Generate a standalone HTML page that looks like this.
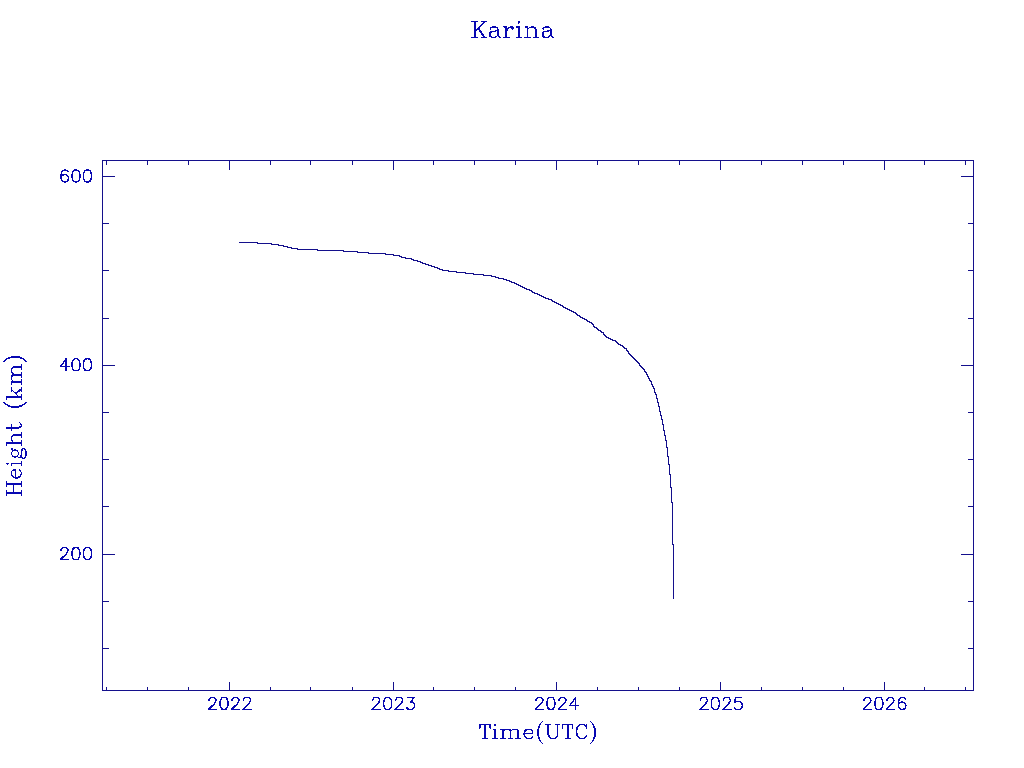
<!DOCTYPE html>
<html><head><meta charset="utf-8"><title>Karina</title>
<style>
html,body{margin:0;padding:0;background:#fff;width:1024px;height:768px;overflow:hidden;font-family:"Liberation Sans",sans-serif}
svg{display:block}
</style></head><body>
<svg width="1024" height="768" viewBox="0 0 1024 768">
<rect width="1024" height="768" fill="#fff"/>
<path shape-rendering="crispEdges" fill="#14108c" d="M102,160h872v1h-872zM102,690h872v1h-872zM102,160h1v531h-1zM973,160h1v531h-1zM106,687h1v3h-1zM106,161h1v4h-1zM147,687h1v3h-1zM147,161h1v4h-1zM188,687h1v3h-1zM188,161h1v4h-1zM229,682h1v8h-1zM229,161h1v9h-1zM270,687h1v3h-1zM270,161h1v4h-1zM310,687h1v3h-1zM310,161h1v4h-1zM352,687h1v3h-1zM352,161h1v4h-1zM393,682h1v8h-1zM393,161h1v9h-1zM433,687h1v3h-1zM433,161h1v4h-1zM474,687h1v3h-1zM474,161h1v4h-1zM515,687h1v3h-1zM515,161h1v4h-1zM556,682h1v8h-1zM556,161h1v9h-1zM597,687h1v3h-1zM597,161h1v4h-1zM638,687h1v3h-1zM638,161h1v4h-1zM679,687h1v3h-1zM679,161h1v4h-1zM720,682h1v8h-1zM720,161h1v9h-1zM761,687h1v3h-1zM761,161h1v4h-1zM802,687h1v3h-1zM802,161h1v4h-1zM843,687h1v3h-1zM843,161h1v4h-1zM884,682h1v8h-1zM884,161h1v9h-1zM924,687h1v3h-1zM924,161h1v4h-1zM965,687h1v3h-1zM965,161h1v4h-1zM103,176h12v1h-12zM961,176h12v1h-12zM103,223h6v1h-6zM968,223h5v1h-5zM103,270h6v1h-6zM968,270h5v1h-5zM103,318h6v1h-6zM968,318h5v1h-5zM103,365h12v1h-12zM961,365h12v1h-12zM103,412h6v1h-6zM968,412h5v1h-5zM103,459h6v1h-6zM968,459h5v1h-5zM103,506h6v1h-6zM968,506h5v1h-5zM103,554h12v1h-12zM961,554h12v1h-12zM103,601h6v1h-6zM968,601h5v1h-5zM103,648h6v1h-6zM968,648h5v1h-5z"/>
<path shape-rendering="crispEdges" fill="#14108c" d="M239,242h19v1h-19zM257,243h15v1h-15zM271,244h8v1h-8zM278,245h6v1h-6zM283,246h5v1h-5zM287,247h5v1h-5zM291,248h7v1h-7zM297,249h21v1h-21zM317,250h27v1h-27zM343,251h15v1h-15zM357,252h12v1h-12zM368,253h18v1h-18zM385,254h9v1h-9zM393,255h7v1h-7zM399,256h3v1h-3zM401,257h5v1h-5zM405,258h7v1h-7zM411,259h3v1h-3zM413,260h5v1h-5zM417,261h4v1h-4zM420,262h3v1h-3zM422,263h4v1h-4zM425,264h4v1h-4zM428,265h4v1h-4zM431,266h4v1h-4zM434,267h4v1h-4zM437,268h3v1h-3zM439,269h4v1h-4zM442,270h7v1h-7zM448,271h9v1h-9zM456,272h10v1h-10zM465,273h9v1h-9zM473,274h11v1h-11zM483,275h9v1h-9zM491,276h5v1h-5zM495,277h4v1h-4zM498,278h6v1h-6zM503,279h4v1h-4zM506,280h4v1h-4zM509,281h3v1h-3zM511,282h4v1h-4zM514,283h3v1h-3zM516,284h3v1h-3zM518,285h3v1h-3zM520,286h3v1h-3zM522,287h3v1h-3zM524,288h3v1h-3zM526,289h4v1h-4zM529,290h3v1h-3zM531,291h2v1h-2zM532,292h3v1h-3zM534,293h4v1h-4zM537,294h3v1h-3zM539,295h3v1h-3zM541,296h3v1h-3zM543,297h3v1h-3zM545,298h4v1h-4zM548,299h4v1h-4zM551,300h2v1h-2zM552,301h3v1h-3zM554,302h3v1h-3zM556,303h3v1h-3zM558,304h3v1h-3zM560,305h3v1h-3zM562,306h2v1h-2zM563,307h3v1h-3zM565,308h3v1h-3zM567,309h3v1h-3zM569,310h3v1h-3zM571,311h3v1h-3zM573,312h3v1h-3zM575,313h2v1h-2zM576,314h2v1h-2zM577,315h3v1h-3zM579,316h2v1h-2zM580,317h3v1h-3zM582,318h3v1h-3zM584,319h3v1h-3zM586,320h2v1h-2zM587,321h3v1h-3zM589,322h3v1h-3zM591,323h2v1h-2zM592,324h2v1h-2zM593,325h1v1h-1zM593,326h2v1h-2zM594,327h3v1h-3zM596,328h2v1h-2zM597,329h2v1h-2zM598,330h3v1h-3zM600,331h2v1h-2zM601,332h3v1h-3zM603,333h1v1h-1zM603,334h2v1h-2zM604,335h2v1h-2zM605,336h2v1h-2zM606,337h3v1h-3zM608,338h3v1h-3zM610,339h3v1h-3zM612,340h4v1h-4zM615,341h2v1h-2zM616,342h2v1h-2zM617,343h2v1h-2zM618,344h3v1h-3zM620,345h3v1h-3zM622,346h2v1h-2zM623,347h2v1h-2zM624,348h3v1h-3zM626,349h1v1h-1zM626,350h2v1h-2zM627,351h2v1h-2zM628,352h1v1h-1zM628,353h2v1h-2zM629,354h2v1h-2zM630,355h2v1h-2zM631,356h2v1h-2zM632,357h2v1h-2zM633,358h2v1h-2zM634,359h2v1h-2zM635,360h2v1h-2zM636,361h2v1h-2zM637,362h2v1h-2zM638,363h2v1h-2zM639,364h1v1h-1zM639,365h2v1h-2zM640,366h2v1h-2zM641,367h2v1h-2zM642,368h2v1h-2zM643,369h2v1h-2zM644,370h1v1h-1zM644,371h2v1h-2zM645,372h2v1h-2zM646,373h1v1h-1zM646,374h2v1h-2zM647,375h1v1h-1zM647,376h2v1h-2zM648,377h1v1h-1zM648,378h2v1h-2zM649,379h1v1h-1zM649,380h2v1h-2zM650,381h1v1h-1zM651,381h1v4h-1zM652,384h1v3h-1zM653,386h1v3h-1zM654,388h1v5h-1zM655,392h1v3h-1zM656,394h1v5h-1zM657,398h1v5h-1zM658,402h1v5h-1zM659,406h1v6h-1zM660,411h1v5h-1zM661,415h1v5h-1zM662,419h1v6h-1zM663,424h1v7h-1zM664,430h1v6h-1zM665,435h1v6h-1zM666,440h1v8h-1zM667,447h1v10h-1zM668,456h1v9h-1zM669,464h1v11h-1zM670,474h1v14h-1zM671,487h1v16h-1zM672,502h1v43h-1zM673,544h1v55h-1z"/>
<g fill="#0808b2" fill-rule="evenodd" shape-rendering="crispEdges">
<path transform="translate(206.78,709.50)" d="M38.69,-12.69 38.56,-12.56 37.69,-12.19 36.69,-11.19 36.69,-11.06 36.19,-10.19 36.06,-9.75 36.12,-9.62 36.12,-9.31 36.06,-9.25 36.12,-8.94 36.38,-8.62 36.62,-8.50 37.12,-8.56 37.50,-9.00 37.50,-9.62 37.94,-10.50 38.38,-10.94 39.25,-11.38 41.25,-11.38 42.12,-10.94 42.56,-10.50 43.00,-9.62 43.00,-8.75 42.44,-7.69 41.38,-6.12 35.69,-0.50 35.50,0.00 35.56,0.25 36.00,0.69 44.50,0.69 44.88,0.38 45.00,0.00 44.88,-0.38 44.50,-0.69 38.06,-0.69 38.00,-0.75 42.50,-5.25 43.75,-7.12 44.44,-8.62 44.38,-8.75 44.38,-9.62 44.44,-9.75 44.31,-10.19 44.19,-10.31 43.69,-11.38 42.81,-12.19 41.38,-12.81 41.25,-12.75 39.25,-12.75 39.12,-12.81ZM27.19,-12.69 27.06,-12.56 26.19,-12.19 25.19,-11.19 25.19,-11.06 24.69,-10.19 24.56,-9.75 24.62,-9.62 24.62,-9.31 24.56,-9.25 24.62,-8.94 24.88,-8.62 25.12,-8.50 25.62,-8.56 26.00,-9.00 26.00,-9.62 26.44,-10.50 26.88,-10.94 27.75,-11.38 29.75,-11.38 30.62,-10.94 31.06,-10.50 31.50,-9.62 31.50,-8.75 30.94,-7.69 29.88,-6.12 24.19,-0.50 24.00,0.00 24.06,0.25 24.50,0.69 33.00,0.69 33.38,0.38 33.50,0.00 33.38,-0.38 33.00,-0.69 26.56,-0.69 26.50,-0.75 31.00,-5.25 32.25,-7.12 32.94,-8.62 32.88,-8.75 32.88,-9.62 32.94,-9.75 32.81,-10.19 32.69,-10.31 32.19,-11.38 31.31,-12.19 29.88,-12.81 29.75,-12.75 27.75,-12.75 27.62,-12.81ZM16.62,-12.81 14.75,-12.19 14.38,-11.94 13.19,-10.19 12.50,-6.94 12.50,-5.12 13.12,-2.06 14.25,-0.31 14.75,0.12 16.44,0.69 18.06,0.69 19.88,0.06 20.25,-0.31 21.25,-1.81 21.44,-2.25 21.44,-2.56 22.00,-5.12 22.00,-6.94 21.31,-10.19 20.12,-11.94 19.75,-12.19 18.31,-12.62 18.12,-12.75 17.81,-12.81 17.69,-12.75 16.88,-12.75ZM16.75,-11.38 17.75,-11.38 19.06,-10.94 20.06,-9.44 20.56,-7.00 20.56,-5.06 20.06,-2.62 19.25,-1.38 19.00,-1.12 17.69,-0.69 16.56,-0.75 15.62,-1.06 15.25,-1.38 14.44,-2.62 13.94,-5.06 13.94,-7.00 14.44,-9.44 15.44,-10.94ZM4.19,-12.69 4.06,-12.56 3.19,-12.19 2.19,-11.19 2.19,-11.06 1.69,-10.19 1.56,-9.75 1.62,-9.62 1.62,-9.31 1.56,-9.25 1.62,-8.94 1.88,-8.62 2.12,-8.50 2.62,-8.56 3.00,-9.00 3.00,-9.62 3.44,-10.50 3.88,-10.94 4.75,-11.38 6.75,-11.38 7.62,-10.94 8.06,-10.50 8.50,-9.62 8.50,-8.75 7.94,-7.69 6.88,-6.12 1.19,-0.50 1.00,0.00 1.06,0.25 1.50,0.69 10.00,0.69 10.38,0.38 10.50,0.00 10.38,-0.38 10.00,-0.69 3.56,-0.69 3.50,-0.75 8.00,-5.25 9.25,-7.12 9.94,-8.62 9.88,-8.75 9.88,-9.62 9.94,-9.75 9.81,-10.19 9.69,-10.31 9.19,-11.38 8.31,-12.19 6.88,-12.81 6.75,-12.75 4.75,-12.75 4.62,-12.81Z"/>
<path transform="translate(370.38,709.50)" d="M37.12,-12.75 36.75,-12.44 36.69,-11.88 36.81,-11.62 37.19,-11.38 42.19,-11.38 42.25,-11.31 39.69,-7.94 39.56,-7.69 39.56,-7.25 40.00,-6.81 40.25,-6.75 41.88,-6.75 42.62,-6.38 43.12,-5.88 43.56,-4.56 43.56,-3.50 43.06,-2.06 42.19,-1.19 40.69,-0.69 39.25,-0.69 37.75,-1.19 37.38,-1.56 36.88,-2.62 36.38,-3.00 36.06,-3.00 35.62,-2.69 35.50,-2.31 35.56,-2.00 36.25,-0.69 36.88,-0.06 37.19,0.12 38.88,0.69 41.06,0.69 42.75,0.12 43.06,-0.06 44.19,-1.19 44.44,-1.62 44.44,-1.81 45.00,-3.44 45.00,-4.62 44.31,-6.69 43.44,-7.56 43.19,-7.62 42.31,-8.12 41.69,-8.25 44.31,-11.69 44.38,-12.31 44.06,-12.69 43.69,-12.81 43.56,-12.75 37.50,-12.75 37.44,-12.81ZM27.19,-12.69 27.06,-12.56 26.19,-12.19 25.19,-11.19 25.19,-11.06 24.69,-10.19 24.56,-9.75 24.62,-9.62 24.62,-9.31 24.56,-9.25 24.62,-8.94 24.88,-8.62 25.12,-8.50 25.62,-8.56 26.00,-9.00 26.00,-9.62 26.44,-10.50 26.88,-10.94 27.75,-11.38 29.75,-11.38 30.62,-10.94 31.06,-10.50 31.50,-9.62 31.50,-8.75 30.94,-7.69 29.88,-6.12 24.19,-0.50 24.00,0.00 24.06,0.25 24.50,0.69 33.00,0.69 33.38,0.38 33.50,0.00 33.38,-0.38 33.00,-0.69 26.56,-0.69 26.50,-0.75 31.00,-5.25 32.25,-7.12 32.94,-8.62 32.88,-8.75 32.88,-9.62 32.94,-9.75 32.81,-10.19 32.69,-10.31 32.19,-11.38 31.31,-12.19 29.88,-12.81 29.75,-12.75 27.75,-12.75 27.62,-12.81ZM16.62,-12.81 14.75,-12.19 14.38,-11.94 13.19,-10.19 12.50,-6.94 12.50,-5.12 13.12,-2.06 14.25,-0.31 14.75,0.12 16.44,0.69 18.06,0.69 19.88,0.06 20.25,-0.31 21.25,-1.81 21.44,-2.25 21.44,-2.56 22.00,-5.12 22.00,-6.94 21.31,-10.19 20.12,-11.94 19.75,-12.19 18.31,-12.62 18.12,-12.75 17.81,-12.81 17.69,-12.75 16.88,-12.75ZM16.75,-11.38 17.75,-11.38 19.06,-10.94 20.06,-9.44 20.56,-7.00 20.56,-5.06 20.06,-2.62 19.25,-1.38 19.00,-1.12 17.69,-0.69 16.56,-0.75 15.62,-1.06 15.25,-1.38 14.44,-2.62 13.94,-5.06 13.94,-7.00 14.44,-9.44 15.44,-10.94ZM4.19,-12.69 4.06,-12.56 3.19,-12.19 2.19,-11.19 2.19,-11.06 1.69,-10.19 1.56,-9.75 1.62,-9.62 1.62,-9.31 1.56,-9.25 1.62,-8.94 1.88,-8.62 2.12,-8.50 2.62,-8.56 3.00,-9.00 3.00,-9.62 3.44,-10.50 3.88,-10.94 4.75,-11.38 6.75,-11.38 7.62,-10.94 8.06,-10.50 8.50,-9.62 8.50,-8.75 7.94,-7.69 6.88,-6.12 1.19,-0.50 1.00,0.00 1.06,0.25 1.50,0.69 10.00,0.69 10.38,0.38 10.50,0.00 10.38,-0.38 10.00,-0.69 3.56,-0.69 3.50,-0.75 8.00,-5.25 9.25,-7.12 9.94,-8.62 9.88,-8.75 9.88,-9.62 9.94,-9.75 9.81,-10.19 9.69,-10.31 9.19,-11.38 8.31,-12.19 6.88,-12.81 6.75,-12.75 4.75,-12.75 4.62,-12.81Z"/>
<path transform="translate(533.70,709.50)" d="M41.94,-12.81 41.38,-12.50 41.00,-11.88 35.62,-4.44 35.50,-4.00 35.62,-3.62 36.12,-3.31 41.19,-3.31 41.25,-3.25 41.25,0.00 41.38,0.38 41.62,0.62 42.19,0.69 42.56,0.38 42.69,0.12 42.69,-3.25 42.75,-3.31 44.94,-3.31 45.25,-3.44 45.44,-3.62 45.56,-4.12 45.31,-4.56 44.88,-4.75 42.75,-4.75 42.69,-4.81 42.69,-12.25 42.44,-12.62 42.25,-12.75ZM41.19,-9.75 41.25,-9.69 41.25,-4.81 41.19,-4.75 37.69,-4.75 37.62,-4.81ZM27.19,-12.69 27.06,-12.56 26.19,-12.19 25.19,-11.19 25.19,-11.06 24.69,-10.19 24.56,-9.75 24.62,-9.62 24.62,-9.31 24.56,-9.25 24.62,-8.94 24.88,-8.62 25.12,-8.50 25.62,-8.56 26.00,-9.00 26.00,-9.62 26.44,-10.50 26.88,-10.94 27.75,-11.38 29.75,-11.38 30.62,-10.94 31.06,-10.50 31.50,-9.62 31.50,-8.75 30.94,-7.69 29.88,-6.12 24.19,-0.50 24.00,0.00 24.06,0.25 24.50,0.69 33.00,0.69 33.38,0.38 33.50,0.00 33.38,-0.38 33.00,-0.69 26.56,-0.69 26.50,-0.75 31.00,-5.25 32.25,-7.12 32.94,-8.62 32.88,-8.75 32.88,-9.62 32.94,-9.75 32.81,-10.19 32.69,-10.31 32.19,-11.38 31.31,-12.19 29.88,-12.81 29.75,-12.75 27.75,-12.75 27.62,-12.81ZM16.62,-12.81 14.75,-12.19 14.38,-11.94 13.19,-10.19 12.50,-6.94 12.50,-5.12 13.12,-2.06 14.25,-0.31 14.75,0.12 16.44,0.69 18.06,0.69 19.88,0.06 20.25,-0.31 21.25,-1.81 21.44,-2.25 21.44,-2.56 22.00,-5.12 22.00,-6.94 21.31,-10.19 20.12,-11.94 19.75,-12.19 18.31,-12.62 18.12,-12.75 17.81,-12.81 17.69,-12.75 16.88,-12.75ZM16.75,-11.38 17.75,-11.38 19.06,-10.94 20.06,-9.44 20.56,-7.00 20.56,-5.06 20.06,-2.62 19.25,-1.38 19.00,-1.12 17.69,-0.69 16.56,-0.75 15.62,-1.06 15.25,-1.38 14.44,-2.62 13.94,-5.06 13.94,-7.00 14.44,-9.44 15.44,-10.94ZM4.19,-12.69 4.06,-12.56 3.19,-12.19 2.19,-11.19 2.19,-11.06 1.69,-10.19 1.56,-9.75 1.62,-9.62 1.62,-9.31 1.56,-9.25 1.62,-8.94 1.88,-8.62 2.12,-8.50 2.62,-8.56 3.00,-9.00 3.00,-9.62 3.44,-10.50 3.88,-10.94 4.75,-11.38 6.75,-11.38 7.62,-10.94 8.06,-10.50 8.50,-9.62 8.50,-8.75 7.94,-7.69 6.88,-6.12 1.19,-0.50 1.00,0.00 1.06,0.25 1.50,0.69 10.00,0.69 10.38,0.38 10.50,0.00 10.38,-0.38 10.00,-0.69 3.56,-0.69 3.50,-0.75 8.00,-5.25 9.25,-7.12 9.94,-8.62 9.88,-8.75 9.88,-9.62 9.94,-9.75 9.81,-10.19 9.69,-10.31 9.19,-11.38 8.31,-12.19 6.88,-12.81 6.75,-12.75 4.75,-12.75 4.62,-12.81Z"/>
<path transform="translate(698.03,709.50)" d="M37.12,-12.75 36.75,-12.44 36.62,-11.94 36.62,-11.38 36.56,-11.31 36.56,-10.81 36.50,-10.75 36.50,-10.25 36.44,-10.19 36.44,-9.69 36.38,-9.62 36.38,-9.12 36.31,-9.06 36.31,-8.56 36.25,-8.50 36.25,-8.00 36.12,-7.38 36.12,-6.69 36.25,-6.44 36.50,-6.25 36.88,-6.19 37.19,-6.31 37.75,-6.88 39.31,-7.38 40.62,-7.38 42.00,-6.94 42.25,-6.81 43.12,-5.88 43.56,-4.56 43.56,-3.50 43.06,-2.06 42.19,-1.19 40.69,-0.69 39.25,-0.69 37.75,-1.19 37.38,-1.56 36.88,-2.62 36.38,-3.00 36.06,-3.00 35.62,-2.69 35.50,-2.31 35.56,-2.00 36.25,-0.69 36.88,-0.06 37.19,0.12 38.88,0.69 41.06,0.69 42.75,0.12 43.06,-0.06 44.19,-1.19 44.44,-1.62 44.44,-1.81 44.81,-2.94 44.94,-3.12 45.00,-4.62 44.31,-6.69 42.94,-8.06 41.25,-8.62 41.06,-8.75 38.88,-8.75 37.75,-8.31 37.69,-8.38 37.69,-8.81 37.75,-8.88 37.94,-11.06 38.06,-11.38 43.31,-11.38 43.69,-11.62 43.81,-11.88 43.75,-12.44 43.38,-12.75 43.12,-12.81 43.00,-12.75 37.50,-12.75 37.44,-12.81ZM27.19,-12.69 27.06,-12.56 26.19,-12.19 25.19,-11.19 25.19,-11.06 24.69,-10.19 24.56,-9.75 24.62,-9.62 24.62,-9.31 24.56,-9.25 24.62,-8.94 24.88,-8.62 25.12,-8.50 25.62,-8.56 26.00,-9.00 26.00,-9.62 26.44,-10.50 26.88,-10.94 27.75,-11.38 29.75,-11.38 30.62,-10.94 31.06,-10.50 31.50,-9.62 31.50,-8.75 30.94,-7.69 29.88,-6.12 24.19,-0.50 24.00,0.00 24.06,0.25 24.50,0.69 33.00,0.69 33.38,0.38 33.50,0.00 33.38,-0.38 33.00,-0.69 26.56,-0.69 26.50,-0.75 31.00,-5.25 32.25,-7.12 32.94,-8.62 32.88,-8.75 32.88,-9.62 32.94,-9.75 32.81,-10.19 32.69,-10.31 32.19,-11.38 31.31,-12.19 29.88,-12.81 29.75,-12.75 27.75,-12.75 27.62,-12.81ZM16.62,-12.81 14.75,-12.19 14.38,-11.94 13.19,-10.19 12.50,-6.94 12.50,-5.12 13.12,-2.06 14.25,-0.31 14.75,0.12 16.44,0.69 18.06,0.69 19.88,0.06 20.25,-0.31 21.25,-1.81 21.44,-2.25 21.44,-2.56 22.00,-5.12 22.00,-6.94 21.31,-10.19 20.12,-11.94 19.75,-12.19 18.31,-12.62 18.12,-12.75 17.81,-12.81 17.69,-12.75 16.88,-12.75ZM16.75,-11.38 17.75,-11.38 19.06,-10.94 20.06,-9.44 20.56,-7.00 20.56,-5.06 20.06,-2.62 19.25,-1.38 19.00,-1.12 17.69,-0.69 16.56,-0.75 15.62,-1.06 15.25,-1.38 14.44,-2.62 13.94,-5.06 13.94,-7.00 14.44,-9.44 15.44,-10.94ZM4.19,-12.69 4.06,-12.56 3.19,-12.19 2.19,-11.19 2.19,-11.06 1.69,-10.19 1.56,-9.75 1.62,-9.62 1.62,-9.31 1.56,-9.25 1.62,-8.94 1.88,-8.62 2.12,-8.50 2.62,-8.56 3.00,-9.00 3.00,-9.62 3.44,-10.50 3.88,-10.94 4.75,-11.38 6.75,-11.38 7.62,-10.94 8.06,-10.50 8.50,-9.62 8.50,-8.75 7.94,-7.69 6.88,-6.12 1.19,-0.50 1.00,0.00 1.06,0.25 1.50,0.69 10.00,0.69 10.38,0.38 10.50,0.00 10.38,-0.38 10.00,-0.69 3.56,-0.69 3.50,-0.75 8.00,-5.25 9.25,-7.12 9.94,-8.62 9.88,-8.75 9.88,-9.62 9.94,-9.75 9.81,-10.19 9.69,-10.31 9.19,-11.38 8.31,-12.19 6.88,-12.81 6.75,-12.75 4.75,-12.75 4.62,-12.81Z"/>
<path transform="translate(861.63,709.50)" d="M40.25,-12.81 38.19,-12.12 37.88,-11.81 36.69,-10.00 36.06,-6.88 36.12,-6.75 36.12,-4.25 36.06,-4.00 36.69,-1.50 38.00,-0.06 38.31,0.12 38.69,0.19 39.81,0.56 40.00,0.69 41.06,0.69 42.88,0.06 44.19,-1.19 44.44,-1.62 44.44,-1.81 44.81,-2.94 44.94,-3.12 45.00,-4.06 44.31,-6.12 42.94,-7.50 42.69,-7.62 42.50,-7.62 40.94,-8.19 40.12,-8.19 38.56,-7.62 38.38,-7.62 38.06,-7.44 37.62,-7.00 37.56,-7.06 38.00,-9.44 39.00,-10.94 40.31,-11.38 41.31,-11.38 42.50,-11.00 42.69,-10.81 43.06,-10.00 43.44,-9.69 43.69,-9.62 43.94,-9.69 44.38,-10.12 44.31,-10.75 43.75,-11.88 43.38,-12.19 43.00,-12.25 41.88,-12.62 41.69,-12.75 41.38,-12.81 41.25,-12.75 40.38,-12.75ZM40.25,-6.75 40.88,-6.75 42.12,-6.31 43.12,-5.31 43.56,-4.00 43.50,-3.25 43.06,-2.06 42.19,-1.19 40.69,-0.69 40.12,-0.75 39.00,-1.12 38.81,-1.25 38.06,-2.00 37.94,-2.25 37.56,-3.75 37.56,-4.19 37.94,-5.31 38.94,-6.31ZM27.19,-12.69 27.06,-12.56 26.19,-12.19 25.19,-11.19 25.19,-11.06 24.69,-10.19 24.56,-9.75 24.62,-9.62 24.62,-9.31 24.56,-9.25 24.62,-8.94 24.88,-8.62 25.12,-8.50 25.62,-8.56 26.00,-9.00 26.00,-9.62 26.44,-10.50 26.88,-10.94 27.75,-11.38 29.75,-11.38 30.62,-10.94 31.06,-10.50 31.50,-9.62 31.50,-8.75 30.94,-7.69 29.88,-6.12 24.19,-0.50 24.00,0.00 24.06,0.25 24.50,0.69 33.00,0.69 33.38,0.38 33.50,0.00 33.38,-0.38 33.00,-0.69 26.56,-0.69 26.50,-0.75 31.00,-5.25 32.25,-7.12 32.94,-8.62 32.88,-8.75 32.88,-9.62 32.94,-9.75 32.81,-10.19 32.69,-10.31 32.19,-11.38 31.31,-12.19 29.88,-12.81 29.75,-12.75 27.75,-12.75 27.62,-12.81ZM16.62,-12.81 14.75,-12.19 14.38,-11.94 13.19,-10.19 12.50,-6.94 12.50,-5.12 13.12,-2.06 14.25,-0.31 14.75,0.12 16.44,0.69 18.06,0.69 19.88,0.06 20.25,-0.31 21.25,-1.81 21.44,-2.25 21.44,-2.56 22.00,-5.12 22.00,-6.94 21.31,-10.19 20.12,-11.94 19.75,-12.19 18.31,-12.62 18.12,-12.75 17.81,-12.81 17.69,-12.75 16.88,-12.75ZM16.75,-11.38 17.75,-11.38 19.06,-10.94 20.06,-9.44 20.56,-7.00 20.56,-5.06 20.06,-2.62 19.25,-1.38 19.00,-1.12 17.69,-0.69 16.56,-0.75 15.62,-1.06 15.25,-1.38 14.44,-2.62 13.94,-5.06 13.94,-7.00 14.44,-9.44 15.44,-10.94ZM4.19,-12.69 4.06,-12.56 3.19,-12.19 2.19,-11.19 2.19,-11.06 1.69,-10.19 1.56,-9.75 1.62,-9.62 1.62,-9.31 1.56,-9.25 1.62,-8.94 1.88,-8.62 2.12,-8.50 2.62,-8.56 3.00,-9.00 3.00,-9.62 3.44,-10.50 3.88,-10.94 4.75,-11.38 6.75,-11.38 7.62,-10.94 8.06,-10.50 8.50,-9.62 8.50,-8.75 7.94,-7.69 6.88,-6.12 1.19,-0.50 1.00,0.00 1.06,0.25 1.50,0.69 10.00,0.69 10.38,0.38 10.50,0.00 10.38,-0.38 10.00,-0.69 3.56,-0.69 3.50,-0.75 8.00,-5.25 9.25,-7.12 9.94,-8.62 9.88,-8.75 9.88,-9.62 9.94,-9.75 9.81,-10.19 9.69,-10.31 9.19,-11.38 8.31,-12.19 6.88,-12.81 6.75,-12.75 4.75,-12.75 4.62,-12.81Z"/>
<path transform="translate(58.70,182.00)" d="M28.12,-12.81 26.25,-12.19 25.88,-11.94 24.69,-10.19 24.00,-6.94 24.00,-5.12 24.62,-2.06 25.75,-0.31 26.25,0.12 27.94,0.69 29.56,0.69 31.38,0.06 31.75,-0.31 32.75,-1.81 32.94,-2.25 32.94,-2.56 33.50,-5.12 33.50,-6.94 32.81,-10.19 31.62,-11.94 31.25,-12.19 29.81,-12.62 29.62,-12.75 29.31,-12.81 29.19,-12.75 28.38,-12.75ZM28.25,-11.38 29.25,-11.38 30.56,-10.94 31.56,-9.44 32.06,-7.00 32.06,-5.06 31.56,-2.62 30.75,-1.38 30.50,-1.12 29.19,-0.69 28.06,-0.75 27.12,-1.06 26.75,-1.38 25.94,-2.62 25.44,-5.06 25.44,-7.00 25.94,-9.44 26.94,-10.94ZM16.62,-12.81 14.75,-12.19 14.38,-11.94 13.19,-10.19 12.50,-6.94 12.50,-5.12 13.12,-2.06 14.25,-0.31 14.75,0.12 16.44,0.69 18.06,0.69 19.88,0.06 20.25,-0.31 21.25,-1.81 21.44,-2.25 21.44,-2.56 22.00,-5.12 22.00,-6.94 21.31,-10.19 20.12,-11.94 19.75,-12.19 18.31,-12.62 18.12,-12.75 17.81,-12.81 17.69,-12.75 16.88,-12.75ZM16.75,-11.38 17.75,-11.38 19.06,-10.94 20.06,-9.44 20.56,-7.00 20.56,-5.06 20.06,-2.62 19.25,-1.38 19.00,-1.12 17.69,-0.69 16.56,-0.75 15.62,-1.06 15.25,-1.38 14.44,-2.62 13.94,-5.06 13.94,-7.00 14.44,-9.44 15.44,-10.94ZM5.75,-12.81 3.69,-12.12 3.38,-11.81 2.19,-10.00 1.56,-6.88 1.62,-6.75 1.62,-4.25 1.56,-4.00 2.19,-1.50 3.50,-0.06 3.81,0.12 4.19,0.19 5.31,0.56 5.50,0.69 6.56,0.69 8.38,0.06 9.69,-1.19 9.94,-1.62 9.94,-1.81 10.31,-2.94 10.44,-3.12 10.50,-4.06 9.81,-6.12 8.44,-7.50 8.19,-7.62 8.00,-7.62 6.44,-8.19 5.62,-8.19 4.06,-7.62 3.88,-7.62 3.56,-7.44 3.12,-7.00 3.06,-7.06 3.50,-9.44 4.50,-10.94 5.81,-11.38 6.81,-11.38 8.00,-11.00 8.19,-10.81 8.56,-10.00 8.94,-9.69 9.19,-9.62 9.44,-9.69 9.88,-10.12 9.81,-10.75 9.25,-11.88 8.88,-12.19 8.50,-12.25 7.38,-12.62 7.19,-12.75 6.88,-12.81 6.75,-12.75 5.88,-12.75ZM5.75,-6.75 6.38,-6.75 7.62,-6.31 8.62,-5.31 9.06,-4.00 9.00,-3.25 8.56,-2.06 7.69,-1.19 6.19,-0.69 5.62,-0.75 4.50,-1.12 4.31,-1.25 3.56,-2.00 3.44,-2.25 3.06,-3.75 3.06,-4.19 3.44,-5.31 4.44,-6.31Z"/>
<path transform="translate(58.70,370.80)" d="M28.12,-12.81 26.25,-12.19 25.88,-11.94 24.69,-10.19 24.00,-6.94 24.00,-5.12 24.62,-2.06 25.75,-0.31 26.25,0.12 27.94,0.69 29.56,0.69 31.38,0.06 31.75,-0.31 32.75,-1.81 32.94,-2.25 32.94,-2.56 33.50,-5.12 33.50,-6.94 32.81,-10.19 31.62,-11.94 31.25,-12.19 29.81,-12.62 29.62,-12.75 29.31,-12.81 29.19,-12.75 28.38,-12.75ZM28.25,-11.38 29.25,-11.38 30.56,-10.94 31.56,-9.44 32.06,-7.00 32.06,-5.06 31.56,-2.62 30.75,-1.38 30.50,-1.12 29.19,-0.69 28.06,-0.75 27.12,-1.06 26.75,-1.38 25.94,-2.62 25.44,-5.06 25.44,-7.00 25.94,-9.44 26.94,-10.94ZM16.62,-12.81 14.75,-12.19 14.38,-11.94 13.19,-10.19 12.50,-6.94 12.50,-5.12 13.12,-2.06 14.25,-0.31 14.75,0.12 16.44,0.69 18.06,0.69 19.88,0.06 20.25,-0.31 21.25,-1.81 21.44,-2.25 21.44,-2.56 22.00,-5.12 22.00,-6.94 21.31,-10.19 20.12,-11.94 19.75,-12.19 18.31,-12.62 18.12,-12.75 17.81,-12.81 17.69,-12.75 16.88,-12.75ZM16.75,-11.38 17.75,-11.38 19.06,-10.94 20.06,-9.44 20.56,-7.00 20.56,-5.06 20.06,-2.62 19.25,-1.38 19.00,-1.12 17.69,-0.69 16.56,-0.75 15.62,-1.06 15.25,-1.38 14.44,-2.62 13.94,-5.06 13.94,-7.00 14.44,-9.44 15.44,-10.94ZM7.44,-12.81 6.88,-12.50 6.50,-11.88 1.12,-4.44 1.00,-4.00 1.12,-3.62 1.62,-3.31 6.69,-3.31 6.75,-3.25 6.75,0.00 6.88,0.38 7.12,0.62 7.69,0.69 8.06,0.38 8.19,0.12 8.19,-3.25 8.25,-3.31 10.44,-3.31 10.75,-3.44 10.94,-3.62 11.06,-4.12 10.81,-4.56 10.38,-4.75 8.25,-4.75 8.19,-4.81 8.19,-12.25 7.94,-12.62 7.75,-12.75ZM6.69,-9.75 6.75,-9.69 6.75,-4.81 6.69,-4.75 3.19,-4.75 3.12,-4.81Z"/>
<path transform="translate(58.70,559.60)" d="M28.12,-12.81 26.25,-12.19 25.88,-11.94 24.69,-10.19 24.00,-6.94 24.00,-5.12 24.62,-2.06 25.75,-0.31 26.25,0.12 27.94,0.69 29.56,0.69 31.38,0.06 31.75,-0.31 32.75,-1.81 32.94,-2.25 32.94,-2.56 33.50,-5.12 33.50,-6.94 32.81,-10.19 31.62,-11.94 31.25,-12.19 29.81,-12.62 29.62,-12.75 29.31,-12.81 29.19,-12.75 28.38,-12.75ZM28.25,-11.38 29.25,-11.38 30.56,-10.94 31.56,-9.44 32.06,-7.00 32.06,-5.06 31.56,-2.62 30.75,-1.38 30.50,-1.12 29.19,-0.69 28.06,-0.75 27.12,-1.06 26.75,-1.38 25.94,-2.62 25.44,-5.06 25.44,-7.00 25.94,-9.44 26.94,-10.94ZM16.62,-12.81 14.75,-12.19 14.38,-11.94 13.19,-10.19 12.50,-6.94 12.50,-5.12 13.12,-2.06 14.25,-0.31 14.75,0.12 16.44,0.69 18.06,0.69 19.88,0.06 20.25,-0.31 21.25,-1.81 21.44,-2.25 21.44,-2.56 22.00,-5.12 22.00,-6.94 21.31,-10.19 20.12,-11.94 19.75,-12.19 18.31,-12.62 18.12,-12.75 17.81,-12.81 17.69,-12.75 16.88,-12.75ZM16.75,-11.38 17.75,-11.38 19.06,-10.94 20.06,-9.44 20.56,-7.00 20.56,-5.06 20.06,-2.62 19.25,-1.38 19.00,-1.12 17.69,-0.69 16.56,-0.75 15.62,-1.06 15.25,-1.38 14.44,-2.62 13.94,-5.06 13.94,-7.00 14.44,-9.44 15.44,-10.94ZM4.19,-12.69 4.06,-12.56 3.19,-12.19 2.19,-11.19 2.19,-11.06 1.69,-10.19 1.56,-9.75 1.62,-9.62 1.62,-9.31 1.56,-9.25 1.62,-8.94 1.88,-8.62 2.12,-8.50 2.62,-8.56 3.00,-9.00 3.00,-9.62 3.44,-10.50 3.88,-10.94 4.75,-11.38 6.75,-11.38 7.62,-10.94 8.06,-10.50 8.50,-9.62 8.50,-8.75 7.94,-7.69 6.88,-6.12 1.19,-0.50 1.00,0.00 1.06,0.25 1.50,0.69 10.00,0.69 10.38,0.38 10.50,0.00 10.38,-0.38 10.00,-0.69 3.56,-0.69 3.50,-0.75 8.00,-5.25 9.25,-7.12 9.94,-8.62 9.88,-8.75 9.88,-9.62 9.94,-9.75 9.81,-10.19 9.69,-10.31 9.19,-11.38 8.31,-12.19 6.88,-12.81 6.75,-12.75 4.75,-12.75 4.62,-12.81Z"/>
<path transform="translate(470.52,37.50)" d="M71.94,-9.31 71.88,-8.31 71.94,-8.06 72.31,-7.75 73.38,-7.75 73.75,-8.00 73.81,-9.12 73.69,-9.38 74.88,-10.00 77.62,-10.00 78.88,-9.38 79.44,-8.81 79.44,-7.75 78.94,-7.31 74.62,-6.62 72.38,-5.88 71.94,-5.56 71.94,-5.44 71.19,-4.06 71.12,-3.81 71.12,-2.25 71.94,-0.50 72.19,-0.25 74.31,0.44 74.50,0.56 77.12,0.56 78.81,-0.25 79.88,-1.25 80.25,-0.50 80.50,-0.25 81.69,0.31 81.81,0.44 82.12,0.56 83.19,0.56 83.56,0.25 83.62,0.06 83.56,-0.25 83.19,-0.56 82.56,-0.56 82.00,-1.12 81.38,-2.31 81.38,-7.56 80.56,-9.31 79.81,-10.12 79.50,-10.38 77.94,-11.12 74.56,-11.12 72.94,-10.31ZM79.44,-6.19 79.44,-2.50 78.12,-1.19 76.88,-0.56 74.88,-0.56 73.62,-1.25 73.06,-2.38 73.06,-3.69 73.69,-4.88 74.94,-5.50 79.31,-6.19 79.38,-6.25ZM19.12,-9.38 19.06,-9.19 19.06,-8.19 19.12,-8.00 19.44,-7.75 20.56,-7.75 20.88,-8.00 21.00,-8.31 20.94,-8.38 20.94,-9.00 21.00,-9.06 20.88,-9.38 22.00,-10.00 24.81,-10.00 26.06,-9.38 26.62,-8.81 26.62,-7.81 26.12,-7.31 21.75,-6.62 19.50,-5.88 19.06,-5.50 18.31,-3.94 18.31,-2.12 19.12,-0.44 19.44,-0.19 21.69,0.56 24.31,0.56 25.88,-0.19 27.00,-1.25 27.12,-1.12 27.44,-0.44 27.62,-0.25 29.25,0.56 30.31,0.56 30.50,0.50 30.75,0.19 30.69,-0.31 30.50,-0.50 30.31,-0.56 29.69,-0.56 29.12,-1.12 28.50,-2.38 28.50,-7.69 27.69,-9.38 26.81,-10.25 25.12,-11.12 21.69,-11.12 20.00,-10.25ZM26.62,-6.19 26.62,-2.56 25.44,-1.31 24.00,-0.56 22.06,-0.56 21.00,-1.06 20.75,-1.31 20.19,-2.44 20.19,-3.62 20.75,-4.75 20.94,-4.94 21.94,-5.44 22.38,-5.56 22.69,-5.56 22.75,-5.62 23.06,-5.62 23.12,-5.69 23.44,-5.69 23.50,-5.75 23.81,-5.75 23.88,-5.81 24.19,-5.81 26.50,-6.25ZM53.81,-10.81 53.81,-10.38 54.06,-10.06 54.25,-10.00 56.00,-10.00 56.06,-9.94 56.06,-0.62 56.00,-0.56 54.25,-0.56 54.06,-0.50 53.81,-0.25 53.81,0.25 54.06,0.50 54.25,0.56 59.81,0.56 60.19,0.25 60.25,0.00 60.19,-0.25 59.81,-0.56 58.00,-0.56 57.94,-0.62 57.94,-8.06 59.19,-9.31 61.25,-10.00 62.50,-10.00 63.69,-9.44 63.81,-9.31 64.38,-8.12 64.38,-0.62 64.31,-0.56 62.50,-0.56 62.12,-0.25 62.06,0.00 62.12,0.25 62.50,0.56 68.06,0.56 68.25,0.50 68.44,0.31 68.50,-0.19 68.25,-0.50 68.06,-0.56 66.31,-0.56 66.25,-0.62 66.25,-8.44 65.44,-10.12 65.12,-10.38 62.69,-11.19 62.56,-11.12 60.94,-11.12 58.69,-10.38 58.00,-9.75 57.94,-9.81 57.94,-10.50 58.00,-10.56 57.94,-10.81 57.69,-11.06 57.38,-11.19 57.31,-11.12 56.69,-11.12 56.62,-11.19 56.56,-11.12 54.19,-11.12ZM45.88,-11.12 45.50,-10.75 45.50,-10.38 45.69,-10.12 45.94,-10.00 47.69,-10.00 47.75,-9.94 47.75,-0.62 47.69,-0.56 45.94,-0.56 45.75,-0.50 45.50,-0.19 45.50,0.19 45.75,0.50 45.94,0.56 51.50,0.56 51.88,0.25 51.94,0.00 51.88,-0.25 51.50,-0.56 49.75,-0.56 49.62,-0.69 49.62,-10.44 49.69,-10.50 49.62,-10.81 49.38,-11.06 49.06,-11.19 49.00,-11.12 48.38,-11.12 48.31,-11.19 48.25,-11.12ZM33.06,-11.12 32.69,-10.81 32.62,-10.56 32.69,-10.31 32.94,-10.06 33.12,-10.00 34.81,-10.00 34.94,-9.88 34.94,-0.69 34.81,-0.56 33.06,-0.56 32.69,-0.25 32.62,0.00 32.69,0.25 33.06,0.56 38.62,0.56 38.81,0.50 39.00,0.31 39.06,0.12 39.00,-0.31 38.81,-0.50 38.62,-0.56 36.88,-0.56 36.81,-0.62 36.81,-6.00 37.44,-7.88 38.88,-9.38 40.12,-10.00 41.50,-10.00 41.56,-9.94 41.00,-9.31 40.94,-9.12 41.00,-8.81 41.88,-7.88 42.12,-7.75 42.44,-7.75 42.69,-7.88 43.56,-8.81 43.62,-9.00 43.62,-9.88 43.56,-10.06 42.69,-11.00 42.44,-11.12 39.81,-11.12 38.12,-10.25 36.88,-9.00 36.81,-9.06 36.81,-10.69 36.75,-10.88 36.56,-11.06 36.25,-11.19 36.12,-11.12 35.56,-11.12 35.50,-11.19 35.44,-11.12ZM48.44,-16.44 48.19,-16.44 47.88,-16.25 47.12,-15.50 47.00,-15.25 47.00,-15.00 47.12,-14.69 47.88,-13.94 48.31,-13.75 48.75,-13.94 49.50,-14.69 49.62,-14.94 49.62,-15.31 49.50,-15.50 48.69,-16.31ZM1.25,-16.38 1.00,-16.12 0.94,-15.94 1.00,-15.56 1.19,-15.38 1.50,-15.25 3.12,-15.25 3.19,-15.19 3.19,-0.62 3.12,-0.56 1.38,-0.56 0.94,-0.12 1.00,0.25 1.38,0.56 6.94,0.56 7.31,0.25 7.38,0.06 7.31,-0.25 6.94,-0.56 5.19,-0.56 5.12,-0.62 5.12,-5.81 7.44,-8.12 7.62,-7.94 12.50,-0.62 12.44,-0.56 11.19,-0.56 10.81,-0.25 10.75,-0.06 10.81,0.25 11.19,0.56 16.00,0.56 16.38,0.25 16.44,0.06 16.38,-0.25 16.00,-0.56 14.69,-0.56 8.75,-9.44 14.56,-15.25 15.88,-15.25 16.06,-15.31 16.38,-15.56 16.44,-15.81 16.38,-16.12 16.12,-16.38 15.94,-16.44 11.25,-16.44 11.06,-16.38 10.81,-16.12 10.75,-15.94 10.81,-15.56 11.00,-15.38 11.31,-15.25 12.81,-15.25 12.88,-15.19 5.19,-7.50 5.12,-7.56 5.12,-15.19 5.19,-15.25 6.81,-15.25 7.00,-15.31 7.31,-15.56 7.38,-15.81 7.31,-16.12 7.06,-16.38 6.88,-16.44 1.44,-16.44Z"/>
<path transform="translate(478.51,738.70)" d="M49.56,-10.25 47.25,-9.50 45.69,-8.00 45.50,-7.69 44.81,-5.56 44.81,-4.12 45.56,-1.81 47.19,-0.19 49.31,0.56 51.12,0.56 53.19,-0.12 53.44,-0.31 54.75,-1.62 54.94,-2.00 54.88,-2.31 54.50,-2.62 54.19,-2.62 52.75,-1.25 50.81,-0.56 49.69,-0.56 48.56,-1.12 47.25,-2.44 46.69,-4.12 46.69,-4.88 46.75,-4.94 54.50,-4.94 54.88,-5.25 54.94,-5.44 54.94,-6.94 54.88,-7.19 54.75,-7.31 54.12,-8.62 53.19,-9.50 51.81,-10.19 49.62,-10.19ZM46.94,-6.25 47.38,-7.38 48.38,-8.38 49.69,-9.06 51.50,-9.06 52.38,-8.62 52.62,-8.38 53.06,-7.50 53.06,-6.12 53.00,-6.06 47.00,-6.06ZM21.50,-9.88 21.44,-9.69 21.50,-9.38 21.88,-9.06 23.44,-9.06 23.50,-9.00 23.50,-0.62 23.44,-0.56 21.88,-0.56 21.50,-0.25 21.44,0.06 21.50,0.25 21.88,0.56 26.94,0.56 27.12,0.50 27.38,0.25 27.38,-0.25 27.12,-0.50 26.94,-0.56 25.44,-0.56 25.31,-0.69 25.31,-7.25 26.44,-8.44 28.25,-9.06 29.44,-9.06 30.44,-8.56 30.62,-8.38 31.06,-7.50 31.06,-0.62 31.00,-0.56 29.44,-0.56 29.06,-0.25 29.00,-0.06 29.06,0.25 29.44,0.56 34.56,0.56 34.94,0.25 35.00,0.00 34.94,-0.25 34.56,-0.56 33.00,-0.56 32.94,-0.62 32.94,-7.38 34.00,-8.44 35.88,-9.06 37.00,-9.06 37.94,-8.62 38.19,-8.38 38.62,-7.50 38.62,-0.62 38.56,-0.56 37.00,-0.56 36.62,-0.25 36.56,-0.06 36.62,0.25 37.00,0.56 42.12,0.56 42.50,0.25 42.56,0.00 42.50,-0.25 42.12,-0.56 40.56,-0.56 40.50,-0.62 40.50,-7.62 40.44,-7.88 40.31,-8.00 39.75,-9.19 39.44,-9.50 37.12,-10.25 37.06,-10.19 35.56,-10.19 33.50,-9.50 32.50,-8.56 32.19,-9.19 31.94,-9.44 29.56,-10.25 29.50,-10.19 28.00,-10.19 25.94,-9.50 25.44,-9.06 25.31,-9.12 25.31,-9.44 25.38,-9.50 25.31,-9.88 25.06,-10.12 24.75,-10.25 24.69,-10.19 24.12,-10.19 24.06,-10.25 24.00,-10.19 21.88,-10.19ZM14.31,-10.19 14.06,-10.06 13.88,-9.75 13.94,-9.38 14.31,-9.06 15.88,-9.06 15.94,-9.00 15.94,-0.62 15.88,-0.56 14.31,-0.56 13.94,-0.25 13.88,0.12 14.31,0.56 19.38,0.56 19.56,0.50 19.81,0.19 19.81,-0.19 19.56,-0.50 19.38,-0.56 17.88,-0.56 17.75,-0.69 17.75,-9.50 17.81,-9.56 17.75,-9.88 17.50,-10.12 17.19,-10.25 17.12,-10.19 16.56,-10.19 16.50,-10.25 16.44,-10.19ZM108.19,-15.00 107.81,-15.00 107.50,-14.75 107.12,-13.56 107.00,-13.50 106.38,-14.19 106.00,-14.38 103.88,-15.06 103.81,-15.00 102.62,-15.00 102.50,-15.06 100.25,-14.31 98.56,-12.69 97.81,-11.19 97.12,-9.12 97.12,-5.31 97.81,-3.25 98.56,-1.75 100.25,-0.12 102.06,0.44 102.25,0.56 104.12,0.56 104.31,0.44 106.25,-0.19 107.88,-1.81 108.56,-3.19 108.56,-3.69 108.19,-4.00 107.88,-4.00 107.50,-3.75 106.88,-2.44 105.50,-1.12 103.81,-0.56 102.69,-0.56 101.44,-1.19 100.12,-2.56 99.62,-3.56 98.94,-5.62 98.94,-8.81 99.50,-10.56 100.19,-12.00 101.50,-13.31 102.62,-13.88 103.81,-13.88 105.56,-13.31 106.88,-12.00 107.50,-10.06 107.75,-9.81 107.94,-9.75 108.31,-9.81 108.50,-10.00 108.62,-10.31 108.56,-10.50 108.56,-14.25 108.62,-14.44 108.56,-14.69ZM83.62,-14.94 83.44,-14.75 83.38,-14.56 83.38,-10.19 83.44,-10.00 83.81,-9.75 84.06,-9.75 84.44,-10.00 84.56,-10.38 84.56,-10.75 84.62,-10.81 85.06,-13.75 85.19,-13.88 88.12,-13.88 88.19,-13.81 88.19,-0.62 88.12,-0.56 86.56,-0.56 86.19,-0.31 86.12,-0.12 86.19,0.31 86.56,0.56 91.62,0.56 91.81,0.50 92.00,0.31 92.06,0.12 92.00,-0.31 91.81,-0.50 91.62,-0.56 90.06,-0.56 90.00,-0.62 90.00,-13.81 90.06,-13.88 93.00,-13.88 93.12,-13.75 93.69,-10.19 94.00,-9.81 94.38,-9.75 94.62,-9.88 94.81,-10.19 94.81,-14.62 94.56,-14.94 94.25,-15.06 94.19,-15.00 93.62,-15.00 93.56,-15.06 93.50,-15.00 89.50,-15.00 89.44,-15.06 89.38,-15.00 88.81,-15.00 88.75,-15.06 88.69,-15.00 84.69,-15.00 84.62,-15.06 84.56,-15.00 84.00,-15.00 83.94,-15.06ZM67.12,-14.94 66.88,-14.69 66.88,-14.25 67.12,-13.94 67.31,-13.88 68.88,-13.88 68.94,-13.81 68.94,-4.25 68.88,-4.12 69.69,-1.75 71.25,-0.19 73.19,0.44 73.38,0.56 75.19,0.56 77.25,-0.12 77.44,-0.25 78.94,-1.75 79.69,-3.94 79.69,-13.81 79.75,-13.88 81.25,-13.88 81.44,-13.94 81.75,-14.31 81.69,-14.75 81.50,-14.94 81.19,-15.06 81.12,-15.00 79.19,-15.00 79.12,-15.06 79.06,-15.00 77.12,-15.00 77.06,-15.06 76.75,-14.94 76.50,-14.62 76.56,-14.12 76.94,-13.88 78.50,-13.88 78.56,-13.81 78.56,-4.25 77.94,-2.38 76.75,-1.19 74.88,-0.56 73.75,-0.56 72.62,-1.12 71.38,-2.38 70.75,-4.19 70.75,-13.81 70.81,-13.88 72.31,-13.88 72.50,-13.94 72.75,-14.19 72.81,-14.38 72.75,-14.75 72.44,-15.00 72.19,-15.06 72.12,-15.00 70.25,-15.00 70.19,-15.06 70.06,-15.00 69.56,-15.00 69.50,-15.06 69.38,-15.00 67.50,-15.00 67.44,-15.06ZM16.50,-15.06 16.19,-14.94 15.31,-14.06 15.25,-13.69 15.38,-13.38 16.06,-12.69 16.25,-12.56 16.62,-12.50 16.81,-12.56 17.69,-13.44 17.75,-13.94 17.62,-14.19 16.94,-14.88ZM1.06,-14.94 0.88,-14.75 0.81,-14.56 0.81,-10.19 0.88,-10.00 1.25,-9.75 1.50,-9.75 1.81,-9.94 2.00,-10.31 2.00,-10.69 2.06,-10.75 2.50,-13.69 2.62,-13.88 5.56,-13.88 5.62,-13.81 5.62,-0.62 5.56,-0.56 4.00,-0.56 3.62,-0.31 3.56,-0.12 3.62,0.31 4.00,0.56 9.06,0.56 9.25,0.50 9.50,0.19 9.50,-0.19 9.25,-0.50 9.06,-0.56 7.50,-0.56 7.44,-0.62 7.44,-13.81 7.50,-13.88 10.44,-13.88 10.56,-13.75 11.12,-10.19 11.44,-9.81 11.81,-9.75 12.06,-9.88 12.25,-10.12 12.25,-14.38 12.31,-14.44 12.19,-14.75 12.00,-14.94 11.69,-15.06 11.62,-15.00 11.06,-15.00 11.00,-15.06 10.94,-15.00 6.94,-15.00 6.88,-15.06 6.81,-15.00 6.25,-15.00 6.19,-15.06 6.12,-15.00 2.12,-15.00 2.06,-15.06 2.00,-15.00 1.44,-15.00 1.38,-15.06ZM111.94,-17.75 111.62,-17.50 111.56,-17.25 111.62,-16.94 113.12,-15.38 114.31,-13.00 115.00,-11.00 115.69,-7.69 115.69,-4.69 115.00,-1.38 114.31,0.62 113.19,2.88 111.62,4.56 111.56,4.75 111.62,5.06 112.00,5.38 112.31,5.38 114.12,3.62 114.19,3.44 115.38,1.75 116.81,-1.12 117.56,-4.81 117.56,-7.56 116.88,-11.06 115.38,-14.12 114.00,-16.19 112.56,-17.62 112.31,-17.75ZM63.81,-17.75 63.56,-17.62 62.12,-16.19 61.94,-15.81 60.75,-14.12 59.31,-11.25 58.56,-7.56 58.62,-7.38 58.62,-5.12 58.56,-4.81 59.25,-1.62 59.25,-1.31 60.75,1.75 60.94,1.94 62.19,3.88 63.69,5.31 64.12,5.38 64.50,5.06 64.56,4.88 64.50,4.56 63.06,3.06 61.69,0.31 61.06,-1.62 60.44,-4.75 60.44,-7.69 61.12,-11.00 61.81,-13.00 62.94,-15.25 64.50,-16.94 64.56,-17.12 64.50,-17.50 64.19,-17.75Z"/>
<path transform="translate(21.20,425.95) rotate(-90) translate(-70.88,0)" d="M111.62,-9.88 111.56,-9.56 111.62,-9.38 111.88,-9.12 112.06,-9.06 113.56,-9.06 113.62,-9.00 113.62,-0.62 113.56,-0.56 112.00,-0.56 111.62,-0.25 111.56,0.06 111.62,0.25 112.00,0.56 117.12,0.56 117.50,0.25 117.56,0.00 117.50,-0.25 117.12,-0.56 115.56,-0.56 115.50,-0.62 115.50,-7.38 116.56,-8.44 118.44,-9.06 119.56,-9.06 120.56,-8.56 120.75,-8.38 121.19,-7.50 121.19,-0.62 121.12,-0.56 119.56,-0.56 119.19,-0.25 119.12,-0.06 119.19,0.25 119.56,0.56 124.69,0.56 125.06,0.25 125.12,0.00 125.06,-0.25 124.69,-0.56 123.12,-0.56 123.06,-0.62 123.06,-7.38 124.12,-8.44 126.00,-9.06 127.12,-9.06 128.06,-8.62 128.31,-8.38 128.75,-7.50 128.75,-0.62 128.69,-0.56 127.12,-0.56 126.75,-0.25 126.69,0.00 126.75,0.25 127.12,0.56 132.25,0.56 132.62,0.25 132.69,0.00 132.62,-0.25 132.25,-0.56 130.69,-0.56 130.62,-0.62 130.62,-7.62 130.56,-7.88 130.44,-8.00 129.88,-9.19 129.56,-9.50 127.31,-10.25 127.19,-10.19 125.69,-10.19 123.62,-9.50 122.62,-8.56 122.31,-9.19 122.00,-9.50 119.69,-10.25 119.62,-10.19 118.12,-10.19 116.06,-9.50 115.56,-9.06 115.50,-9.12 115.44,-9.88 115.12,-10.19 114.88,-10.25 114.81,-10.19 114.25,-10.19 114.19,-10.25 114.12,-10.19 112.00,-10.19ZM42.62,-10.25 40.88,-9.38 40.19,-8.69 39.50,-7.31 39.38,-7.19 39.31,-6.94 39.31,-5.50 39.88,-4.25 39.38,-3.69 38.81,-2.50 38.69,-2.38 38.62,-1.31 38.69,-1.06 38.81,-0.94 39.25,0.00 39.12,0.12 39.00,0.12 38.69,0.44 38.12,1.62 38.00,1.75 37.94,2.81 38.00,3.06 38.12,3.19 38.69,4.38 39.00,4.69 41.06,5.38 45.62,5.38 47.69,4.69 48.00,4.38 48.56,3.19 48.69,3.06 48.75,2.81 48.69,1.75 48.56,1.62 48.00,0.44 47.69,0.12 45.62,-0.56 42.06,-0.56 40.25,-1.19 39.81,-1.62 39.81,-2.00 40.31,-3.00 40.56,-3.31 41.06,-2.88 42.50,-2.19 44.19,-2.19 45.62,-2.88 45.88,-3.06 46.62,-3.88 47.38,-5.50 47.38,-6.94 47.31,-7.19 46.81,-8.06 46.81,-8.19 47.06,-8.38 48.25,-8.38 48.44,-8.44 48.69,-8.69 48.75,-9.69 48.69,-9.88 48.44,-10.12 47.94,-10.19 46.56,-9.50 46.06,-9.12 45.62,-9.50 44.25,-10.19 42.75,-10.19ZM39.12,2.12 39.69,1.12 40.44,0.88 40.75,0.88 41.75,1.25 45.31,1.25 47.12,1.88 47.56,2.31 47.56,2.69 47.00,3.69 45.31,4.25 41.38,4.25 39.69,3.69 39.12,2.69ZM42.81,-9.06 43.88,-9.06 44.81,-8.62 45.06,-8.38 45.50,-7.50 45.50,-4.88 45.06,-4.00 44.88,-3.81 43.88,-3.31 42.81,-3.31 41.81,-3.81 41.62,-4.00 41.19,-4.88 41.19,-7.50 41.62,-8.38 41.88,-8.62ZM30.81,-10.19 30.44,-9.88 30.38,-9.69 30.44,-9.38 30.69,-9.12 30.88,-9.06 32.38,-9.06 32.44,-9.00 32.44,-0.62 32.38,-0.56 30.81,-0.56 30.44,-0.25 30.38,-0.06 30.44,0.25 30.81,0.56 35.94,0.56 36.31,0.25 36.38,0.00 36.31,-0.25 35.94,-0.56 34.38,-0.56 34.31,-0.62 34.31,-9.69 34.25,-9.88 33.94,-10.19 33.69,-10.25 33.62,-10.19 33.06,-10.19 33.00,-10.25 32.94,-10.19ZM22.69,-10.25 20.44,-9.50 18.75,-7.88 18.00,-5.69 18.00,-3.94 18.12,-3.75 18.69,-1.88 20.25,-0.25 20.44,-0.12 22.50,0.56 24.31,0.56 24.50,0.44 26.44,-0.19 28.06,-1.81 28.12,-2.06 28.06,-2.31 27.69,-2.62 27.38,-2.62 27.12,-2.50 25.69,-1.12 24.00,-0.56 22.88,-0.56 21.62,-1.19 20.50,-2.31 19.88,-4.06 19.81,-4.81 19.94,-4.94 27.62,-4.94 27.81,-5.00 28.06,-5.25 28.12,-5.50 28.12,-6.88 27.38,-8.50 26.38,-9.50 24.94,-10.19 22.81,-10.19ZM20.06,-6.12 20.44,-7.25 21.69,-8.50 22.81,-9.06 24.62,-9.06 25.62,-8.56 25.81,-8.38 26.25,-7.50 26.25,-6.12 26.19,-6.06 20.12,-6.06ZM68.62,-15.00 68.31,-14.75 68.19,-14.44 68.25,-14.38 68.25,-10.31 68.12,-10.19 66.56,-10.19 66.19,-9.88 66.19,-9.44 66.44,-9.12 66.62,-9.06 68.19,-9.06 68.25,-9.00 68.25,-2.88 68.19,-2.75 69.00,-0.38 69.19,-0.19 70.69,0.56 72.38,0.56 73.81,-0.12 74.12,-0.38 74.81,-1.75 74.88,-2.19 74.81,-2.38 74.44,-2.62 74.00,-2.56 73.75,-2.31 73.75,-2.19 73.25,-1.19 73.12,-1.06 72.06,-0.56 71.12,-0.56 70.62,-1.12 70.06,-2.81 70.06,-9.00 70.12,-9.06 72.38,-9.06 72.75,-9.38 72.81,-9.75 72.75,-9.94 72.38,-10.19 70.12,-10.19 70.06,-10.25 70.06,-14.56 70.00,-14.75 69.69,-15.00 69.31,-15.00 69.12,-14.88 69.00,-15.00ZM97.38,-14.94 97.19,-14.75 97.12,-14.31 97.44,-13.94 97.62,-13.88 99.12,-13.88 99.19,-13.81 99.19,-0.62 99.12,-0.56 97.56,-0.56 97.19,-0.31 97.12,-0.12 97.19,0.31 97.56,0.56 102.62,0.56 102.81,0.50 103.06,0.19 103.06,-0.19 102.81,-0.50 102.62,-0.56 101.12,-0.56 101.00,-0.69 101.00,-2.50 103.12,-4.62 106.12,-0.62 106.06,-0.56 105.12,-0.56 104.75,-0.25 104.69,-0.06 104.75,0.25 105.12,0.56 109.50,0.56 109.69,0.50 109.94,0.25 109.94,-0.25 109.69,-0.50 109.50,-0.56 108.31,-0.56 104.38,-5.88 107.56,-9.06 109.50,-9.06 109.69,-9.12 109.94,-9.44 109.94,-9.88 109.56,-10.19 107.38,-10.19 107.31,-10.25 107.25,-10.19 105.12,-10.19 104.75,-9.94 104.69,-9.69 104.75,-9.38 105.12,-9.06 105.81,-9.06 105.88,-9.00 101.06,-4.19 101.00,-4.25 101.00,-14.31 101.06,-14.38 101.00,-14.69 100.75,-14.94 100.44,-15.06 100.31,-15.00 99.88,-15.00 99.81,-15.06 99.69,-15.00 97.75,-15.00 97.69,-15.06ZM51.31,-14.94 51.06,-14.69 51.00,-14.44 51.06,-14.19 51.31,-13.94 51.50,-13.88 53.00,-13.88 53.06,-13.81 53.06,-0.62 53.00,-0.56 51.44,-0.56 51.06,-0.25 51.00,0.00 51.06,0.25 51.44,0.56 56.56,0.56 56.94,0.25 57.00,0.06 56.94,-0.25 56.56,-0.56 55.00,-0.56 54.94,-0.62 54.94,-7.31 56.12,-8.50 57.88,-9.06 59.06,-9.06 60.12,-8.50 60.69,-7.31 60.69,-0.69 60.56,-0.56 59.06,-0.56 58.88,-0.50 58.62,-0.25 58.62,0.25 58.88,0.50 59.06,0.56 64.12,0.56 64.50,0.25 64.56,0.06 64.50,-0.25 64.12,-0.56 62.56,-0.56 62.50,-0.62 62.50,-7.62 61.75,-9.25 61.44,-9.50 59.12,-10.25 59.06,-10.19 57.56,-10.19 55.69,-9.56 55.31,-9.38 55.00,-9.06 54.94,-9.12 54.94,-14.56 54.88,-14.75 54.38,-15.06 54.25,-15.00 53.75,-15.00 53.69,-15.06 53.56,-15.00 51.69,-15.00 51.62,-15.06ZM33.00,-15.06 32.62,-14.88 31.88,-14.12 31.75,-13.69 31.94,-13.31 32.75,-12.56 33.12,-12.50 33.31,-12.56 34.25,-13.50 34.31,-13.75 34.12,-14.19 33.44,-14.88ZM1.06,-14.94 0.88,-14.75 0.81,-14.31 1.12,-13.94 1.25,-13.88 2.81,-13.88 2.88,-13.81 2.88,-0.62 2.81,-0.56 1.25,-0.56 0.88,-0.31 0.81,-0.12 0.88,0.31 1.25,0.56 6.31,0.56 6.50,0.50 6.69,0.31 6.75,-0.12 6.69,-0.31 6.50,-0.50 6.31,-0.56 4.75,-0.56 4.69,-0.62 4.69,-6.94 4.75,-7.00 11.75,-7.00 11.81,-6.94 11.81,-0.62 11.75,-0.56 10.19,-0.56 9.81,-0.31 9.75,-0.12 9.81,0.31 10.19,0.56 15.25,0.56 15.44,0.50 15.69,0.19 15.69,-0.19 15.44,-0.50 15.25,-0.56 13.69,-0.56 13.62,-0.62 13.62,-13.81 13.69,-13.88 15.25,-13.88 15.50,-14.00 15.69,-14.25 15.62,-14.75 15.44,-14.94 15.12,-15.06 15.06,-15.00 13.19,-15.00 13.12,-15.06 13.00,-15.00 12.50,-15.00 12.44,-15.06 12.31,-15.00 10.38,-15.00 10.31,-15.06 10.00,-14.94 9.81,-14.75 9.75,-14.31 10.06,-13.94 10.25,-13.88 11.75,-13.88 11.81,-13.81 11.81,-8.19 11.75,-8.12 4.75,-8.12 4.69,-8.19 4.69,-13.81 4.75,-13.88 6.31,-13.88 6.69,-14.12 6.75,-14.31 6.69,-14.75 6.50,-14.94 6.19,-15.06 6.12,-15.00 4.19,-15.00 4.12,-15.06 4.06,-15.00 3.50,-15.00 3.44,-15.06 3.38,-15.00 1.44,-15.00 1.38,-15.06ZM135.38,-17.75 135.00,-17.44 134.94,-17.19 135.00,-16.94 136.38,-15.56 137.81,-12.75 138.38,-11.06 139.06,-7.75 139.06,-4.62 138.38,-1.31 137.75,0.50 136.50,3.00 135.00,4.56 134.94,4.81 135.00,5.06 135.38,5.38 135.69,5.38 136.00,5.19 137.44,3.75 137.50,3.56 138.81,1.69 138.81,1.56 140.06,-0.94 140.19,-1.06 140.94,-4.69 140.94,-7.75 140.81,-8.06 140.19,-11.31 140.06,-11.44 138.88,-13.81 138.81,-14.06 138.62,-14.25 137.44,-16.12 135.94,-17.62 135.75,-17.75ZM94.06,-17.75 92.31,-16.06 92.25,-15.88 91.00,-14.06 89.62,-11.31 88.88,-7.81 88.88,-4.56 89.62,-1.06 91.00,1.69 92.25,3.50 92.31,3.69 93.88,5.25 94.12,5.38 94.56,5.31 94.81,5.00 94.75,4.50 93.38,3.12 92.06,0.56 91.38,-1.44 90.69,-4.88 90.69,-7.50 91.31,-10.69 91.94,-12.62 93.31,-15.44 94.75,-16.88 94.81,-17.06 94.81,-17.38 94.56,-17.69Z"/>
</g>
</svg>
</body></html>
